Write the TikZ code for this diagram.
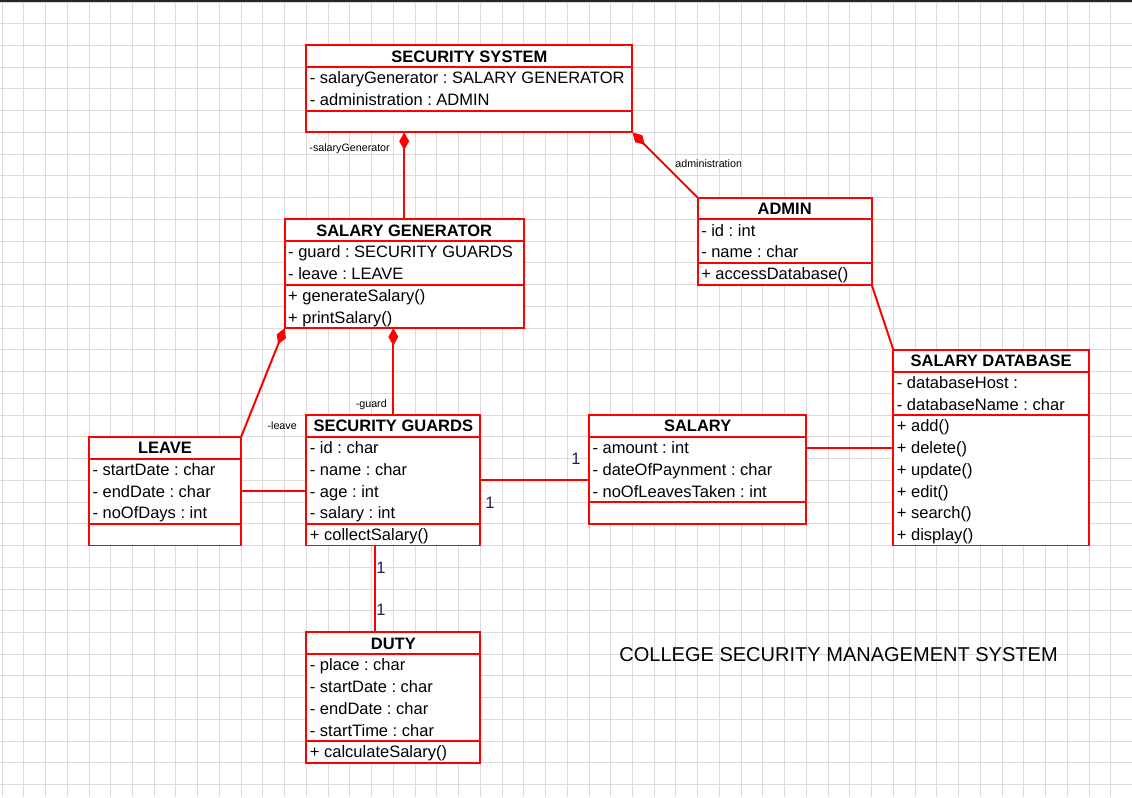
\documentclass[tikz,border=0pt]{standalone}
\usepackage{fontspec}
\setmainfont{Liberation Sans}
\usetikzlibrary{calc,arrows.meta}
\definecolor{umlred}{RGB}{255,0,0}
\definecolor{multblue}{RGB}{30,30,80}
\newcommand{\memberfont}{\fontsize{10.8}{13}\selectfont}
\frenchspacing
\tikzset{
    classbox/.style={draw=umlred, fill=white, line width=1.3pt, outer sep=0pt, inner sep=0pt, anchor=north west},
    classline/.style={draw=umlred, line width=1.3pt},
    member/.style={anchor=west, inner sep=0pt, text height=7.7pt, text depth=0pt, font=\memberfont},
    classtitle/.style={member, anchor=center, font=\memberfont\bfseries},
    assoc/.style={draw=umlred, line width=1.3pt},
    compose/.style={assoc, {Diamond[length=11.5pt,width=6.5pt]}-},
    rolename/.style={inner sep=0pt, font=\fontsize{7}{8}\selectfont},
    mult/.style={inner sep=0pt, text=multblue, font=\memberfont},
    gridline/.style={draw=black!14, line width=0.6pt}
}
% name, top left, width, attribute rows, method rows, title, attributes, methods
\newcommand{\umlclass}[8]{%
    \node[classbox, minimum width={#3*0.5cm}, minimum height={(1+#4+#5)*0.5cm}] (#1) at (#2) {};
    \draw[classline] ($(#1.north west)+(0,-1)$) -- ($(#1.north east)+(0,-1)$);
    \draw[classline] ($(#1.north west)+(0,{-1-#4})$) -- ($(#1.north east)+(0,{-1-#4})$);
    \node[classtitle] (#1t) at ($(#1.north)+(0,-0.5)$) {#6};
    \foreach \txt [count=\i] in {#7}
        \node[member] (#1a\i) at ($(#1.north west)+(0.15,{-0.5-\i})$) {\txt};
    \foreach \txt [count=\i] in {#8}
        \node[member] (#1m\i) at ($(#1.north west)+(0.15,{-0.5-#4-\i})$) {\txt};
}

\begin{document}
\begin{tikzpicture}[x=0.5cm, y=0.5cm]
    \useasboundingbox (-0.092,0.092) rectangle (51.978,-36.569);
    \draw[gridline, step=0.5cm] (-0.092,0.092) grid (51.978,-36.569);
    \fill[black!85] (-0.092,0.092) rectangle (51.978,0.02);

    \umlclass{sys}{14,-2}{15}{2}{1}{SECURITY SYSTEM}
        {- salaryGenerator : SALARY GENERATOR, - administration : ADMIN}{}
    \umlclass{gen}{13,-10}{11}{2}{2}{SALARY GENERATOR}
        {- guard : SECURITY GUARDS, - leave : LEAVE}{+ generateSalary(), + printSalary()}
    \umlclass{admin}{32,-9}{8}{2}{1}{ADMIN}
        {- id : int, - name : char}{+ accessDatabase()}
    \umlclass{db}{41,-16}{9}{2}{6}{SALARY DATABASE}
        {- databaseHost :, - databaseName : char}
        {+ add(), + delete(), + update(), + edit(), + search(), + display()}
    \umlclass{leave}{4,-20}{7}{3}{1}{LEAVE}
        {- startDate : char, - endDate : char, - noOfDays : int}{}
    \umlclass{guard}{14,-19}{8}{4}{1}{SECURITY GUARDS}
        {- id : char, - name : char, - age : int, - salary : int}{+ collectSalary()}
    \umlclass{salary}{27,-19}{10}{3}{1}{SALARY}
        {- amount : int, - dateOfPaynment : char, - noOfLeavesTaken : int}{}
    \umlclass{duty}{14,-29}{8}{4}{1}{DUTY}
        {- place : char, - startDate : char, - endDate : char, - startTime : char}{+ calculateSalary()}

    \draw[compose] (gen.north |- sys.south) -- (gen.north);
    \draw[compose] (sys.south east) -- (admin.north west);
    \draw[compose] (gen.south west) -- (leave.north east);
    \draw[compose] (guard.north |- gen.south) -- (guard.north);
    \draw[assoc] (leave.east) -- (leave.east -| guard.west);
    \draw[assoc] (guard.east) -- (guard.east -| salary.west);
    \draw[assoc] (db.west) -- (db.west -| salary.east);
    \draw[assoc] (admin.south east) -- (db.north west);
    \coordinate (dutylink) at ($(guard.south)+(-0.86,0)$);
    \draw[assoc] (dutylink) -- (dutylink |- duty.north);

    \node[rolename, anchor=east] (genrole) at (17.85,-6.76) {-salaryGenerator};
    \begin{scope}
        \clip (30,-6) rectangle (33.95,-9);
        \node[rolename, anchor=west] (adminrole) at (30.96,-7.45) {administration};
    \end{scope}
    \node[rolename, anchor=east] (guardrole) at (17.71,-18.54) {-guard};
    \node[rolename, anchor=east] (leaverole) at (13.57,-19.5) {-leave};

    \node[mult] (multsal) at (26.4,-21.02) {1};
    \node[mult] (multguard) at (22.45,-23.05) {1};
    \node[mult] (multtop) at (17.43,-26.04) {1};
    \node[mult] (multduty) at (17.43,-27.97) {1};

    \node[font=\fontsize{13.1}{15}\selectfont, inner sep=0pt] (diagtitle) at (38.48,-30)
        {COLLEGE SECURITY MANAGEMENT SYSTEM};
\end{tikzpicture}
\end{document}
